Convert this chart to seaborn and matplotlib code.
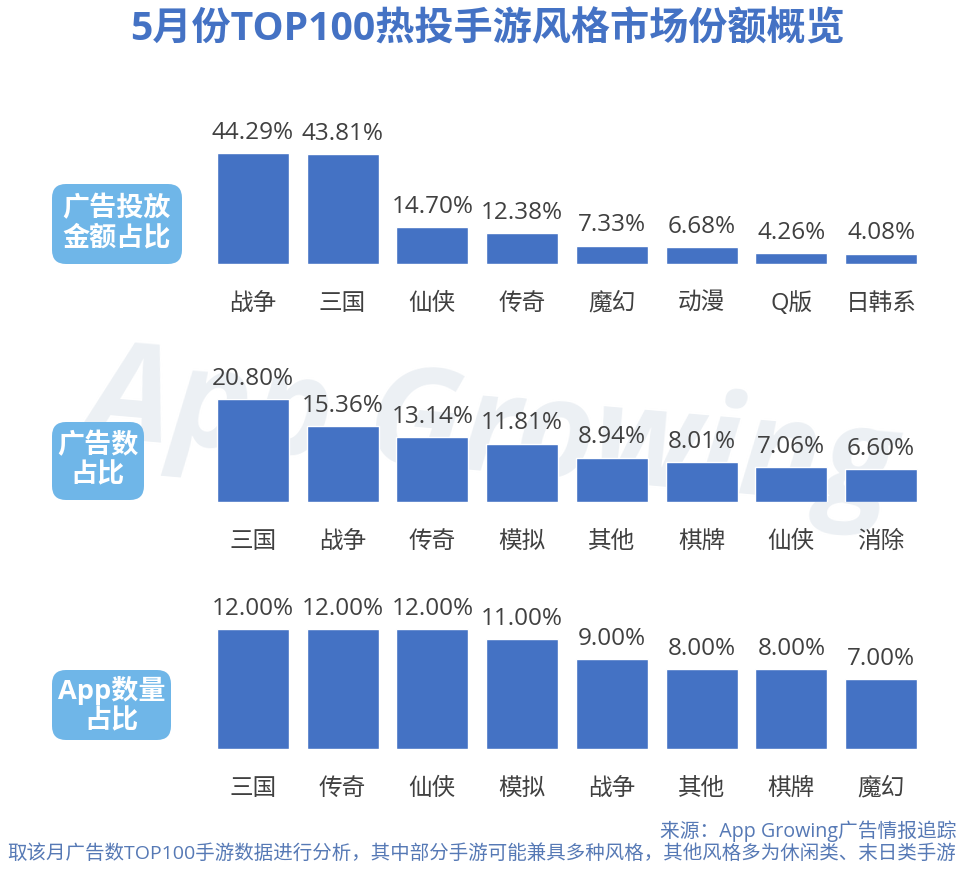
import numpy as np
import pandas as pd
import seaborn as sns
import matplotlib.pyplot as plt
from matplotlib.patches import FancyBboxPatch

sns.set_theme(style="white")
plt.rcParams['font.family'] = ['Open Sans', 'Noto Sans CJK SC', 'DejaVu Sans']

W, H = 969, 873

title = '5月份TOP100热投手游风格市场份额概览'
source1 = '来源：App Growing广告情报追踪'
source2 = '取该月广告数TOP100手游数据进行分析，其中部分手游可能兼具多种风格，其他风格多为休闲类、末日类手游'
watermark = 'App Growing'

# panel data
spend_cats = ['战争', '三国', '仙侠', '传奇', '魔幻', '动漫', 'Q版', '日韩系']
spend_vals = [44.29, 43.81, 14.70, 12.38, 7.33, 6.68, 4.26, 4.08]
ads_cats = ['三国', '战争', '传奇', '模拟', '其他', '棋牌', '仙侠', '消除']
ads_vals = [20.80, 15.36, 13.14, 11.81, 8.94, 8.01, 7.06, 6.60]
apps_cats = ['三国', '传奇', '仙侠', '模拟', '战争', '其他', '棋牌', '魔幻']
apps_vals = [12.00, 12.00, 12.00, 11.00, 9.00, 8.00, 8.00, 7.00]
badges = ['广告投放\n金额占比', '广告数\n占比', 'App数量\n占比']

blue = '#4472c4'
fig = plt.figure(figsize=(W / 100, H / 100), dpi=100, facecolor='white')

bg = fig.add_axes([0, 0, 1, 1], zorder=-1)
bg.set_xlim(0, W)
bg.set_ylim(H, 0)
bg.axis('off')

# faint watermark behind the middle panel
bg.text(490, 435, watermark, ha='center', va='center', fontsize=98, fontstyle='italic',
        fontweight='bold', color='#ecf0f4', rotation=-5, zorder=0)

# pixel boxes: baseline y, top of tallest bar, badge box
panels = [
    (spend_cats, spend_vals, 264, 153, badges[0], (52, 184, 130, 80)),
    (ads_cats, ads_vals, 502, 399, badges[1], (52, 422, 92, 78)),
    (apps_cats, apps_vals, 749, 629, badges[2], (52, 670, 119, 70)),
]

for cats, vals, base, top, badge, box in panels:
    ax = fig.add_axes([208 / W, 1 - base / H, 718 / W, (base - top) / H])
    df = pd.DataFrame({'cat': cats, 'val': vals})
    sns.barplot(data=df, x='cat', y='val', color=blue, saturation=1, width=0.8, ax=ax)
    ax.set_xlim(-0.5, 7.5)
    ax.set_ylim(0, max(vals))
    ax.set_xlabel('')
    ax.set_ylabel('')
    ax.set_yticks([])
    ax.patch.set_alpha(0)
    sns.despine(ax=ax, left=True, bottom=True)
    ax.tick_params(axis='x', length=0, pad=20, labelsize=17, labelcolor='#404040')
    for cont in ax.containers:
        ax.bar_label(cont, fmt='%.2f%%', padding=6, fontsize=17.5, color='#404040')
    x, y, w, h = box
    bg.add_patch(FancyBboxPatch((x + 14, y + 14), w - 28, h - 28, boxstyle='round,pad=14',
                                fc='#6fb6e8', ec='none', zorder=1))
    bg.text(x + w / 2, y + h / 2, badge, ha='center', va='center', color='white',
            fontsize=19.5, fontweight='bold', linespacing=1.15, zorder=2)

fig.text(488 / W, 1 - 30 / H, title, ha='center', va='center', fontsize=28.2,
         fontweight='bold', color='#4472c4')
fig.text(956 / W, 1 - 831 / H, source1, ha='right', va='center', fontsize=14.2, color='#5679b5')
fig.text(956 / W, 1 - 853 / H, source2, ha='right', va='center', fontsize=14, color='#5679b5')

fig.savefig('out.png', dpi=100)
